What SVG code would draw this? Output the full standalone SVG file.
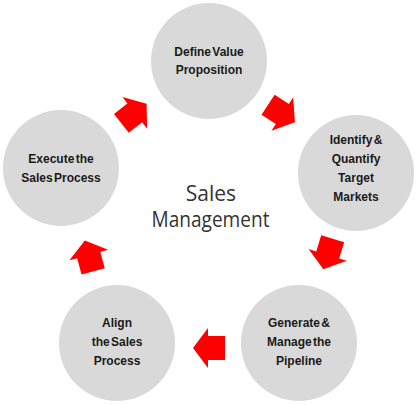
<svg xmlns="http://www.w3.org/2000/svg" width="420" height="405" viewBox="0 0 420 405">
<defs>
<style>
.node circle{fill:#d9d9d9;}
.lbl{font-family:"Liberation Sans",Arial,sans-serif;font-size:12px;font-weight:bold;fill:#1a1a1a;text-anchor:middle;word-spacing:-2px;}
.center{font-family:"Open Sans","Noto Sans",sans-serif;font-size:21px;fill:#333;text-anchor:middle;}
.arrow{fill:#ff0000;}
</style>
<path id="arr" d="M16,0 L1,-20 L1,-12 L-16,-12 L-16,12 L1,12 L1,20 Z"/>
</defs>
<rect width="420" height="405" fill="#ffffff"/>
<g id="node-define" class="node">
<circle cx="209" cy="61" r="58"/>
<text class="lbl" x="209" y="56">Define Value</text>
<text class="lbl" x="209" y="74">Proposition</text>
</g>
<g id="node-identify" class="node">
<circle cx="356" cy="173" r="58"/>
<text class="lbl" x="356" y="144">Identify &amp;</text>
<text class="lbl" x="356" y="163">Quantify</text>
<text class="lbl" x="356" y="182">Target</text>
<text class="lbl" x="356" y="201">Markets</text>
</g>
<g id="node-generate" class="node">
<circle cx="299" cy="343" r="58"/>
<text class="lbl" x="299" y="327">Generate &amp;</text>
<text class="lbl" x="299" y="346">Manage the</text>
<text class="lbl" x="299" y="365">Pipeline</text>
</g>
<g id="node-align" class="node">
<circle cx="117" cy="343" r="58"/>
<text class="lbl" x="117" y="327">Align</text>
<text class="lbl" x="117" y="346">the Sales</text>
<text class="lbl" x="117" y="365">Process</text>
</g>
<g id="node-execute" class="node">
<circle cx="61" cy="168" r="58"/>
<text class="lbl" x="61" y="163">Execute the</text>
<text class="lbl" x="61" y="182">Sales Process</text>
</g>
<g id="center-label">
<text class="center" x="211" y="201">Sales</text>
<text class="center" x="210.5" y="227" textLength="118" lengthAdjust="spacingAndGlyphs">Management</text>
</g>
<g id="connectors" class="arrow">
<use href="#arr" transform="translate(134,113.5) rotate(-38)"/>
<use href="#arr" transform="translate(281.5,113.5) rotate(33)"/>
<use href="#arr" transform="translate(328,254) rotate(107)"/>
<use href="#arr" transform="translate(209,348) rotate(180)"/>
<use href="#arr" transform="translate(89,256) rotate(-105)"/>
</g>
</svg>
